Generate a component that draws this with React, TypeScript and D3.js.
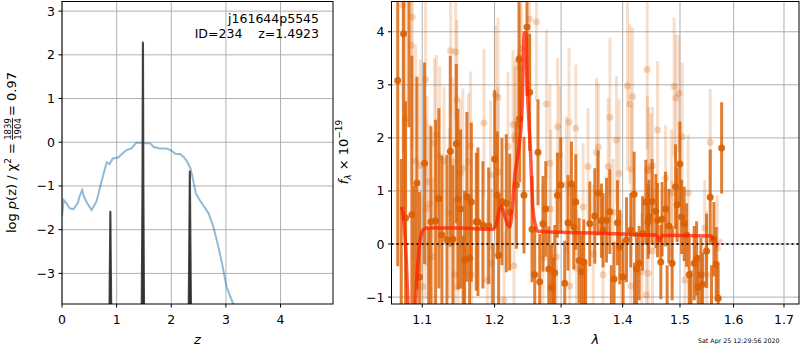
import * as d3 from 'd3';
import React from 'react';

// left panel: redshift probability
const zGrid = [0, 0.03, 0.08, 0.14, 0.21, 0.29, 0.32, 0.37, 0.4, 0.46, 0.54, 0.63, 0.7, 0.78, 0.82, 0.87, 0.93, 1.03, 1.11, 1.18, 1.27, 1.36, 1.42, 1.51, 1.61, 1.68, 1.79, 1.91, 2.0, 2.08, 2.16, 2.23, 2.29, 2.35, 2.4, 2.45, 2.52, 2.6, 2.68, 2.77, 2.86, 2.94, 3.01, 3.13, 3.2];
const logPz = [-1.7, -1.32, -1.39, -1.51, -1.53, -1.39, -1.24, -1.09, -1.24, -1.39, -1.55, -1.36, -1.01, -0.63, -0.46, -0.5, -0.37, -0.35, -0.25, -0.18, -0.14, -0.01, -0.01, -0.02, -0.02, -0.11, -0.14, -0.14, -0.19, -0.27, -0.27, -0.34, -0.44, -0.59, -0.86, -1.17, -1.32, -1.47, -1.62, -1.93, -2.38, -2.84, -3.3, -3.69, -4.2];

const spikeZ = [
  [0.865, 0.875, 0.882, 0.888, 0.895, 0.905],
  [1.455, 1.47, 1.478, 1.485, 1.492, 1.505],
  [2.315, 2.33, 2.337, 2.343, 2.35, 2.365],
];
const spikeP = [
  [-4, -2.6, -1.57, -1.6, -2.6, -4],
  [-4, -1.0, 2.3, 2.25, -1.0, -4],
  [-4, -1.8, -0.65, -0.7, -1.8, -4],
];

const zTicks = [0, 1, 2, 3, 4];
const pTicks = [-3, -2, -1, 0, 1, 2, 3];

// right panel: spectrum
const darkWave = [1.0680, 1.0725, 1.0755, 1.0781, 1.0825, 1.0863, 1.0895, 1.0929, 1.0964, 1.1030,
  1.1085, 1.1115, 1.1178, 1.1222, 1.1263, 1.1331, 1.1377, 1.1413, 1.1460, 1.1482,
  1.1519, 1.1555, 1.1575, 1.1607, 1.1645, 1.1669, 1.1739, 1.1762, 1.1833, 1.1915,
  1.1975, 1.2001, 1.2040, 1.2059, 1.2107, 1.2171, 1.2220, 1.2319, 1.2358, 1.2368,
  1.2432, 1.2477, 1.2518, 1.2553, 1.2594, 1.2644, 1.2670, 1.2720, 1.2762, 1.2808,
  1.2850, 1.2880, 1.2901, 1.2943, 1.2995, 1.3057, 1.3109, 1.3163, 1.3200, 1.3232,
  1.3284, 1.3323, 1.3360, 1.3390, 1.3457, 1.3538, 1.3592, 1.3648, 1.3674, 1.3730,
  1.3785, 1.3810, 1.3856, 1.3913, 1.3952, 1.4008, 1.4065, 1.4138, 1.4194, 1.4200,
  1.4235, 1.4280, 1.4339, 1.4396, 1.4436, 1.4448, 1.4506, 1.4570, 1.4600, 1.4658,
  1.4681, 1.4742, 1.4770, 1.4800, 1.4859, 1.4920, 1.4949, 1.4998, 1.5029, 1.5076,
  1.5120, 1.5167, 1.5200, 1.5259, 1.5303, 1.5332, 1.5382, 1.5414, 1.5488, 1.5556,
  1.5580, 1.5625, 1.5668, 1.5706, 1.5771];
const darkFlux = [3.08, -1.6, 3.96, 0.49, 5.2, 0.55, -1.4, 1.15, -0.62, 1.52,
  -1.3, 0.42, 0.44, 0.86, 0.17, 0.08, 1.75, 0.09, 1.89, 0.85,
  0.66, -1.25, -0.30, 0.89, -0.27, 0.79, 0.42, 0.42, 0.36, 0.34,
  -1.2, 1.6, 0.92, -0.21, 0.80, 0.77, 0.60, 1.11, 3.48, 2.36,
  0.92, 4.09, 2.86, 0.28, -0.58, 1.73, -0.71, 0.38, 0.66, -0.47,
  -0.82, -1.25, -0.54, 0.92, 1.11, -0.74, 0.40, 1.13, 0.32, 0.79,
  -0.31, -0.52, -0.34, -1.2, 0.38, 0.53, 0.96, 0.44, 0.26, 0.45,
  0.61, -1.3, -0.66, 0.40, -0.06, -0.62, 0.08, 0.26, 0.94, -1.25,
  -0.47, -0.36, 0.20, 0.79, 0.42, 0.51, 0.80, 0.62, 0.45, -0.34,
  0.47, 0.66, -1.2, 0.34, -0.36, 1.08, 0.74, 1.51, 0.51, 0.38,
  0.17, -0.58, -1.3, -0.36, -0.27, -0.81, -0.58, -0.76, -0.13, 0.88,
  -1.2, 0.09, -0.38, -1.02, 1.81];
const darkErr = [3.5, 3.2, 3.5, 2.2, 3.0, 3.0, 2.5, 2.0, 1.6, 1.9,
  1.6, 1.8, 1.9, 1.7, 1.5, 1.6, 1.8, 1.4, 1.5, 1.7,
  1.5, 1.4, 1.3, 1.6, 1.2, 1.5, 1.3, 1.4, 1.2, 1.1,
  1.2, 1.3, 1.2, 1.1, 1.2, 1.3, 1.1, 1.2, 1.3, 1.2,
  1.1, 1.3, 1.1, 1.0, 0.9, 1.0, 0.9, 0.9, 0.9, 0.8,
  0.8, 1.0, 0.9, 0.8, 0.9, 0.8, 0.9, 0.8, 0.8, 0.9,
  0.8, 0.7, 0.8, 0.9, 0.8, 0.9, 0.8, 0.7, 0.7, 0.8,
  0.8, 0.9, 0.7, 0.8, 0.7, 0.7, 0.8, 0.7, 0.8, 0.9,
  0.7, 0.7, 0.7, 0.8, 0.7, 0.7, 0.8, 0.7, 0.7, 0.7,
  0.7, 0.7, 0.8, 0.7, 0.7, 0.8, 0.7, 0.8, 0.7, 0.7,
  0.6, 0.7, 0.8, 0.7, 0.7, 0.6, 0.7, 0.6, 0.7, 0.9,
  0.8, 0.7, 0.7, 0.6, 0.86];

const lightWave = [1.0746, 1.0868, 1.0855, 1.0781, 1.0912, 1.0974, 1.1044, 1.1061, 1.1097, 1.1050,
  1.1164, 1.1187, 1.1232, 1.1290, 1.1382, 1.1450, 1.1468, 1.1413, 1.1515, 1.1551,
  1.1631, 1.1659, 1.1141, 1.1437, 1.1482, 1.1669, 1.1368, 1.1008, 1.1847, 1.2011,
  1.2049, 1.2195, 1.2294, 1.2306, 1.2269, 1.2343, 1.2372, 1.2394, 1.2515, 1.2620,
  1.2773, 1.2946, 1.2826, 1.1943, 1.2052, 1.2283, 1.1953, 1.1896, 1.2136, 1.2720,
  1.2927, 1.2839, 1.3125, 1.3232, 1.3084, 1.3429, 1.3566, 1.3595, 1.3757, 1.3788,
  1.3896, 1.3940, 1.4082, 1.4121, 1.4167, 1.4153, 1.4419, 1.4425, 1.2979, 1.3243,
  1.3136, 1.3513, 1.3674, 1.3980, 1.4138, 1.4323, 1.3349, 1.3840, 1.4600, 1.4484,
  1.4512, 1.4448, 1.4742, 1.4895, 1.4926, 1.4980, 1.5040, 1.5149, 1.5556, 1.4849,
  1.4436, 1.4512, 1.4860, 1.5089, 1.5488, 1.5453, 1.5690, 1.4405];
const lightFlux = [4.5, 4.28, 3.74, 2.36, 1.56, 1.48, 3.1, 1.18, 0.76, 0.66,
  1.9, 2.06, 1.65, 1.56, 3.64, 3.62, 2.72, 1.55, 1.33, 1.43,
  1.55, 1.85, -0.24, -0.58, -0.81, -0.58, 0.58, -0.8, 2.28, 2.81,
  2.76, 1.84, 2.04, 1.96, 2.25, 2.35, 3.31, 3.69, 4.24, 4.19,
  2.64, 2.21, 1.52, 1.3, 1.36, -0.41, -0.36, -0.68, -1.06, -0.27,
  -0.24, 0.66, 2.30, 2.18, 1.11, 1.46, 1.73, 1.83, 1.46, 2.39,
  1.96, 1.33, 2.98, 2.64, 2.78, 1.41, 3.29, 1.4, 1.68, -0.45,
  -0.79, -0.19, -0.58, -0.62, -0.79, -0.52, 0.7, 0.6, 2.15, 1.46,
  1.48, 1.38, 1.24, 2.97, 2.75, 2.84, 2.02, 0.96, 1.92, 0.96,
  -0.55, -0.13, 0.2, -0.68, -0.58, 0.3, -0.08, -0.96];
const lightErr = [2.8, 2.5, 2.6, 2.4, 2.2, 2.0, 1.8, 1.6, 1.5, 1.7,
  1.6, 1.5, 1.7, 1.4, 1.2, 1.3, 1.5, 1.6, 1.4, 1.5,
  1.3, 1.4, 1.5, 1.4, 1.3, 1.5, 1.6, 1.7, 1.4, 1.3,
  1.5, 1.4, 1.3, 1.5, 1.4, 1.3, 1.2, 1.4, 1.3, 1.5,
  1.4, 1.3, 1.5, 1.4, 1.6, 1.3, 1.4, 1.5, 1.3, 1.4,
  1.3, 1.5, 1.4, 1.2, 1.3, 1.1, 1.4, 1.2, 1.3, 1.5,
  1.2, 1.4, 1.6, 1.5, 1.3, 1.2, 1.5, 1.4, 1.3, 1.1,
  1.2, 1.3, 1.1, 1.2, 1.3, 1.1, 1.2, 1.0, 1.3, 1.0,
  1.1, 1.2, 1.0, 1.3, 1.2, 1.1, 1.4, 1.1, 1.0, 1.2,
  1.1, 1.2, 1.0, 1.1, 1.2, 0.9, 1.0, 1.1];

const modelWave = [1.073, 1.076, 1.079, 1.082, 1.086, 1.090, 1.093, 1.096, 1.099, 1.102, 1.106, 1.15, 1.198, 1.203, 1.207, 1.2098, 1.213, 1.218, 1.222, 1.226, 1.2294, 1.2358, 1.2403, 1.2437, 1.246, 1.248, 1.2529, 1.2566, 1.2605, 1.2644, 1.3, 1.35, 1.40, 1.45, 1.458, 1.4632, 1.4675, 1.4708, 1.50, 1.5578, 1.561];
const modelFlux = [0.70, 0.4, -0.3, -1.5, -3, -1.6, -0.6, -0.05, 0.2, 0.28, 0.30, 0.30, 0.28, 0.4, 0.65, 0.72, 0.6, 0.4, 0.32, 0.7, 1.27, 1.83, 2.53, 3.98, 3.98, 3.04, 1.77, 0.70, 0.35, 0.24, 0.22, 0.21, 0.19, 0.17, 0.17, 0.06, 0.15, 0.16, 0.16, 0.15, 0.08];
const tailWave = [1.561, 1.567, 1.572, 1.577];
const tailFlux = [0.08, -0.03, 0.02, 0.09];

const lamTicks = [1.1, 1.2, 1.3, 1.4, 1.5, 1.6, 1.7];
const fTicks = [-1, 0, 1, 2, 3, 4];

const font = 'DejaVu Sans';
const orange = '#d95f02';
const minus = (t: number) => (t < 0 ? '\u2212' + Math.abs(t) : String(t));

export default function App() {
  const top = 1.5, bottom = 304;
  const zX = d3.scaleLinear().domain([0, 4.96]).range([62, 333]);
  const pY = d3.scaleLinear().domain([-3.7, 3.22]).range([bottom, top]);
  const lamX = d3.scaleLog().domain([1.06, 1.731]).range([391.5, 799]);
  const fY = d3.scaleLinear().domain([-1.13, 4.57]).range([bottom, top]);

  const pzLine = d3.line<number>().x((d, i) => zX(zGrid[i])).y((d) => pY(d));
  const modelLine = d3.line<number>().x((d, i) => lamX(modelWave[i])).y((d) => fY(d)).curve(d3.curveMonotoneX);
  const tailLine = d3.line<number>().x((d, i) => lamX(tailWave[i])).y((d) => fY(d));

  const [lx0, lx1] = zX.range();
  const [rx0, rx1] = lamX.range();

  return (
    <svg width={800} height={350} style={{ position: 'absolute', left: 0, top: 0 }} fontFamily={font}>
      <defs>
        <clipPath id="clipL"><rect x={lx0} y={top} width={lx1 - lx0} height={bottom - top} /></clipPath>
        <clipPath id="clipR"><rect x={rx0} y={top} width={rx1 - rx0} height={bottom - top} /></clipPath>
      </defs>
      <rect width={800} height={350} fill="white" />

      {/* ---- left panel ---- */}
      <g stroke="#b0b0b0" strokeWidth={1}>
        {zTicks.map((t) => <line key={'zg' + t} x1={zX(t)} x2={zX(t)} y1={top} y2={bottom} />)}
        {pTicks.map((t) => <line key={'pg' + t} x1={lx0} x2={lx1} y1={pY(t)} y2={pY(t)} />)}
      </g>
      <g clipPath="url(#clipL)">
        <path d={pzLine(logPz) || ''} fill="none" stroke="#1f77b4" strokeOpacity={0.5} strokeWidth={2} />
        {spikeZ.map((zs, k) => {
          const sp = d3.line<number>().x((d, i) => zX(zs[i])).y((d) => pY(d));
          return <path key={'sp' + k} d={sp(spikeP[k]) || ''} fill="#333" stroke="#333" strokeWidth={1.8} strokeOpacity={0.9} />;
        })}
      </g>
      <rect x={lx0} y={top} width={lx1 - lx0} height={bottom - top} fill="none" stroke="black" strokeWidth={1} />
      {zTicks.map((t) => (
        <g key={'zt' + t}>
          <line x1={zX(t)} x2={zX(t)} y1={bottom} y2={bottom + 3.5} stroke="black" />
          <text x={zX(t)} y={324} fontSize={12.5} textAnchor="middle">{t}</text>
        </g>
      ))}
      {pTicks.map((t) => (
        <g key={'pt' + t}>
          <line x1={lx0 - 3.5} x2={lx0} y1={pY(t)} y2={pY(t)} stroke="black" />
          <text x={lx0 - 7} y={pY(t)} dy="0.36em" fontSize={12.5} textAnchor="end">{minus(t)}</text>
        </g>
      ))}
      <text x={319} y={23} fontSize={12.5} textAnchor="end">j161644p5545</text>
      <text x={319} y={38} fontSize={12.5} textAnchor="end" xmlSpace="preserve">ID=234    z=1.4923</text>
      <text x={(lx0 + lx1) / 2} y={344} fontSize={13} textAnchor="middle" fontStyle="italic">z</text>
      <g transform="translate(16,153) rotate(-90)" fontSize={13}>
        <text x={10} y={0} textAnchor="end">
          log <tspan fontStyle="italic">p</tspan>(z) / χ<tspan fontSize={9} dy={-5}>2</tspan><tspan dy={5}> =</tspan>
        </text>
        <text x={24} y={-5} fontSize={8.5} textAnchor="middle">1839</text>
        <line x1={13} x2={35} y1={-3.5} y2={-3.5} stroke="black" strokeWidth={0.8} />
        <text x={24} y={5} fontSize={8.5} textAnchor="middle">1904</text>
        <text x={37} y={0} textAnchor="start" xmlSpace="preserve">= 0.97</text>
      </g>

      {/* ---- right panel ---- */}
      <g stroke="#b0b0b0" strokeWidth={1}>
        {lamTicks.map((t) => <line key={'lg' + t} x1={lamX(t)} x2={lamX(t)} y1={top} y2={bottom} />)}
        {fTicks.map((t) => <line key={'fg' + t} x1={rx0} x2={rx1} y1={fY(t)} y2={fY(t)} />)}
      </g>
      <g clipPath="url(#clipR)">
        <g stroke={orange} strokeOpacity={0.2} strokeWidth={3}>
          {lightWave.map((w, i) => (
            <line key={'lb' + i} x1={lamX(w)} x2={lamX(w)} y1={fY(lightFlux[i] - lightErr[i])} y2={fY(lightFlux[i] + lightErr[i])} />
          ))}
        </g>
        <g fill={orange} fillOpacity={0.25}>
          {lightWave.map((w, i) => <circle key={'ld' + i} cx={lamX(w)} cy={fY(lightFlux[i])} r={3.5} />)}
        </g>
        <g stroke={orange} strokeOpacity={0.8} strokeWidth={3}>
          {darkWave.map((w, i) => (
            <line key={'db' + i} x1={lamX(w)} x2={lamX(w)} y1={fY(darkFlux[i] - darkErr[i])} y2={fY(darkFlux[i] + darkErr[i])} />
          ))}
        </g>
        <g fill={orange} fillOpacity={0.9}>
          {darkWave.map((w, i) => <circle key={'dd' + i} cx={lamX(w)} cy={fY(darkFlux[i])} r={3.5} />)}
        </g>
        <line x1={rx0} x2={rx1} y1={fY(0)} y2={fY(0)} stroke="black" strokeWidth={2} strokeDasharray="2,3" strokeOpacity={0.85} />
        <path d={modelLine(modelFlux) || ''} fill="none" stroke="#ff2200" strokeOpacity={0.75} strokeWidth={3.5} />
        <path d={tailLine(tailFlux) || ''} fill="none" stroke="#ff2200" strokeOpacity={0.25} strokeWidth={3.5} />
      </g>
      <rect x={rx0} y={top} width={rx1 - rx0} height={bottom - top} fill="none" stroke="black" strokeWidth={1} />
      {lamTicks.map((t) => (
        <g key={'lt' + t}>
          <line x1={lamX(t)} x2={lamX(t)} y1={bottom} y2={bottom + 3.5} stroke="black" />
          <text x={lamX(t)} y={324} fontSize={12.5} textAnchor="middle">{t.toFixed(1)}</text>
        </g>
      ))}
      {fTicks.map((t) => (
        <g key={'ft' + t}>
          <line x1={rx0 - 3.5} x2={rx0} y1={fY(t)} y2={fY(t)} stroke="black" />
          <text x={rx0 - 7} y={fY(t)} dy="0.36em" fontSize={12.5} textAnchor="end">{minus(t)}</text>
        </g>
      ))}
      <text x={(rx0 + rx1) / 2} y={344} fontSize={13} textAnchor="middle" fontStyle="italic">λ</text>
      <text transform="translate(348,152) rotate(-90)" fontSize={13} textAnchor="middle">
        <tspan fontStyle="italic">f</tspan><tspan fontSize={9} dy={3} fontStyle="italic">λ</tspan><tspan dy={-3}> × 10</tspan><tspan fontSize={9} dy={-6}>−19</tspan>
      </text>
      <text x={698} y={343} fontSize={6.3}>Sat Apr 25 12:29:56 2020</text>
    </svg>
  );
}
